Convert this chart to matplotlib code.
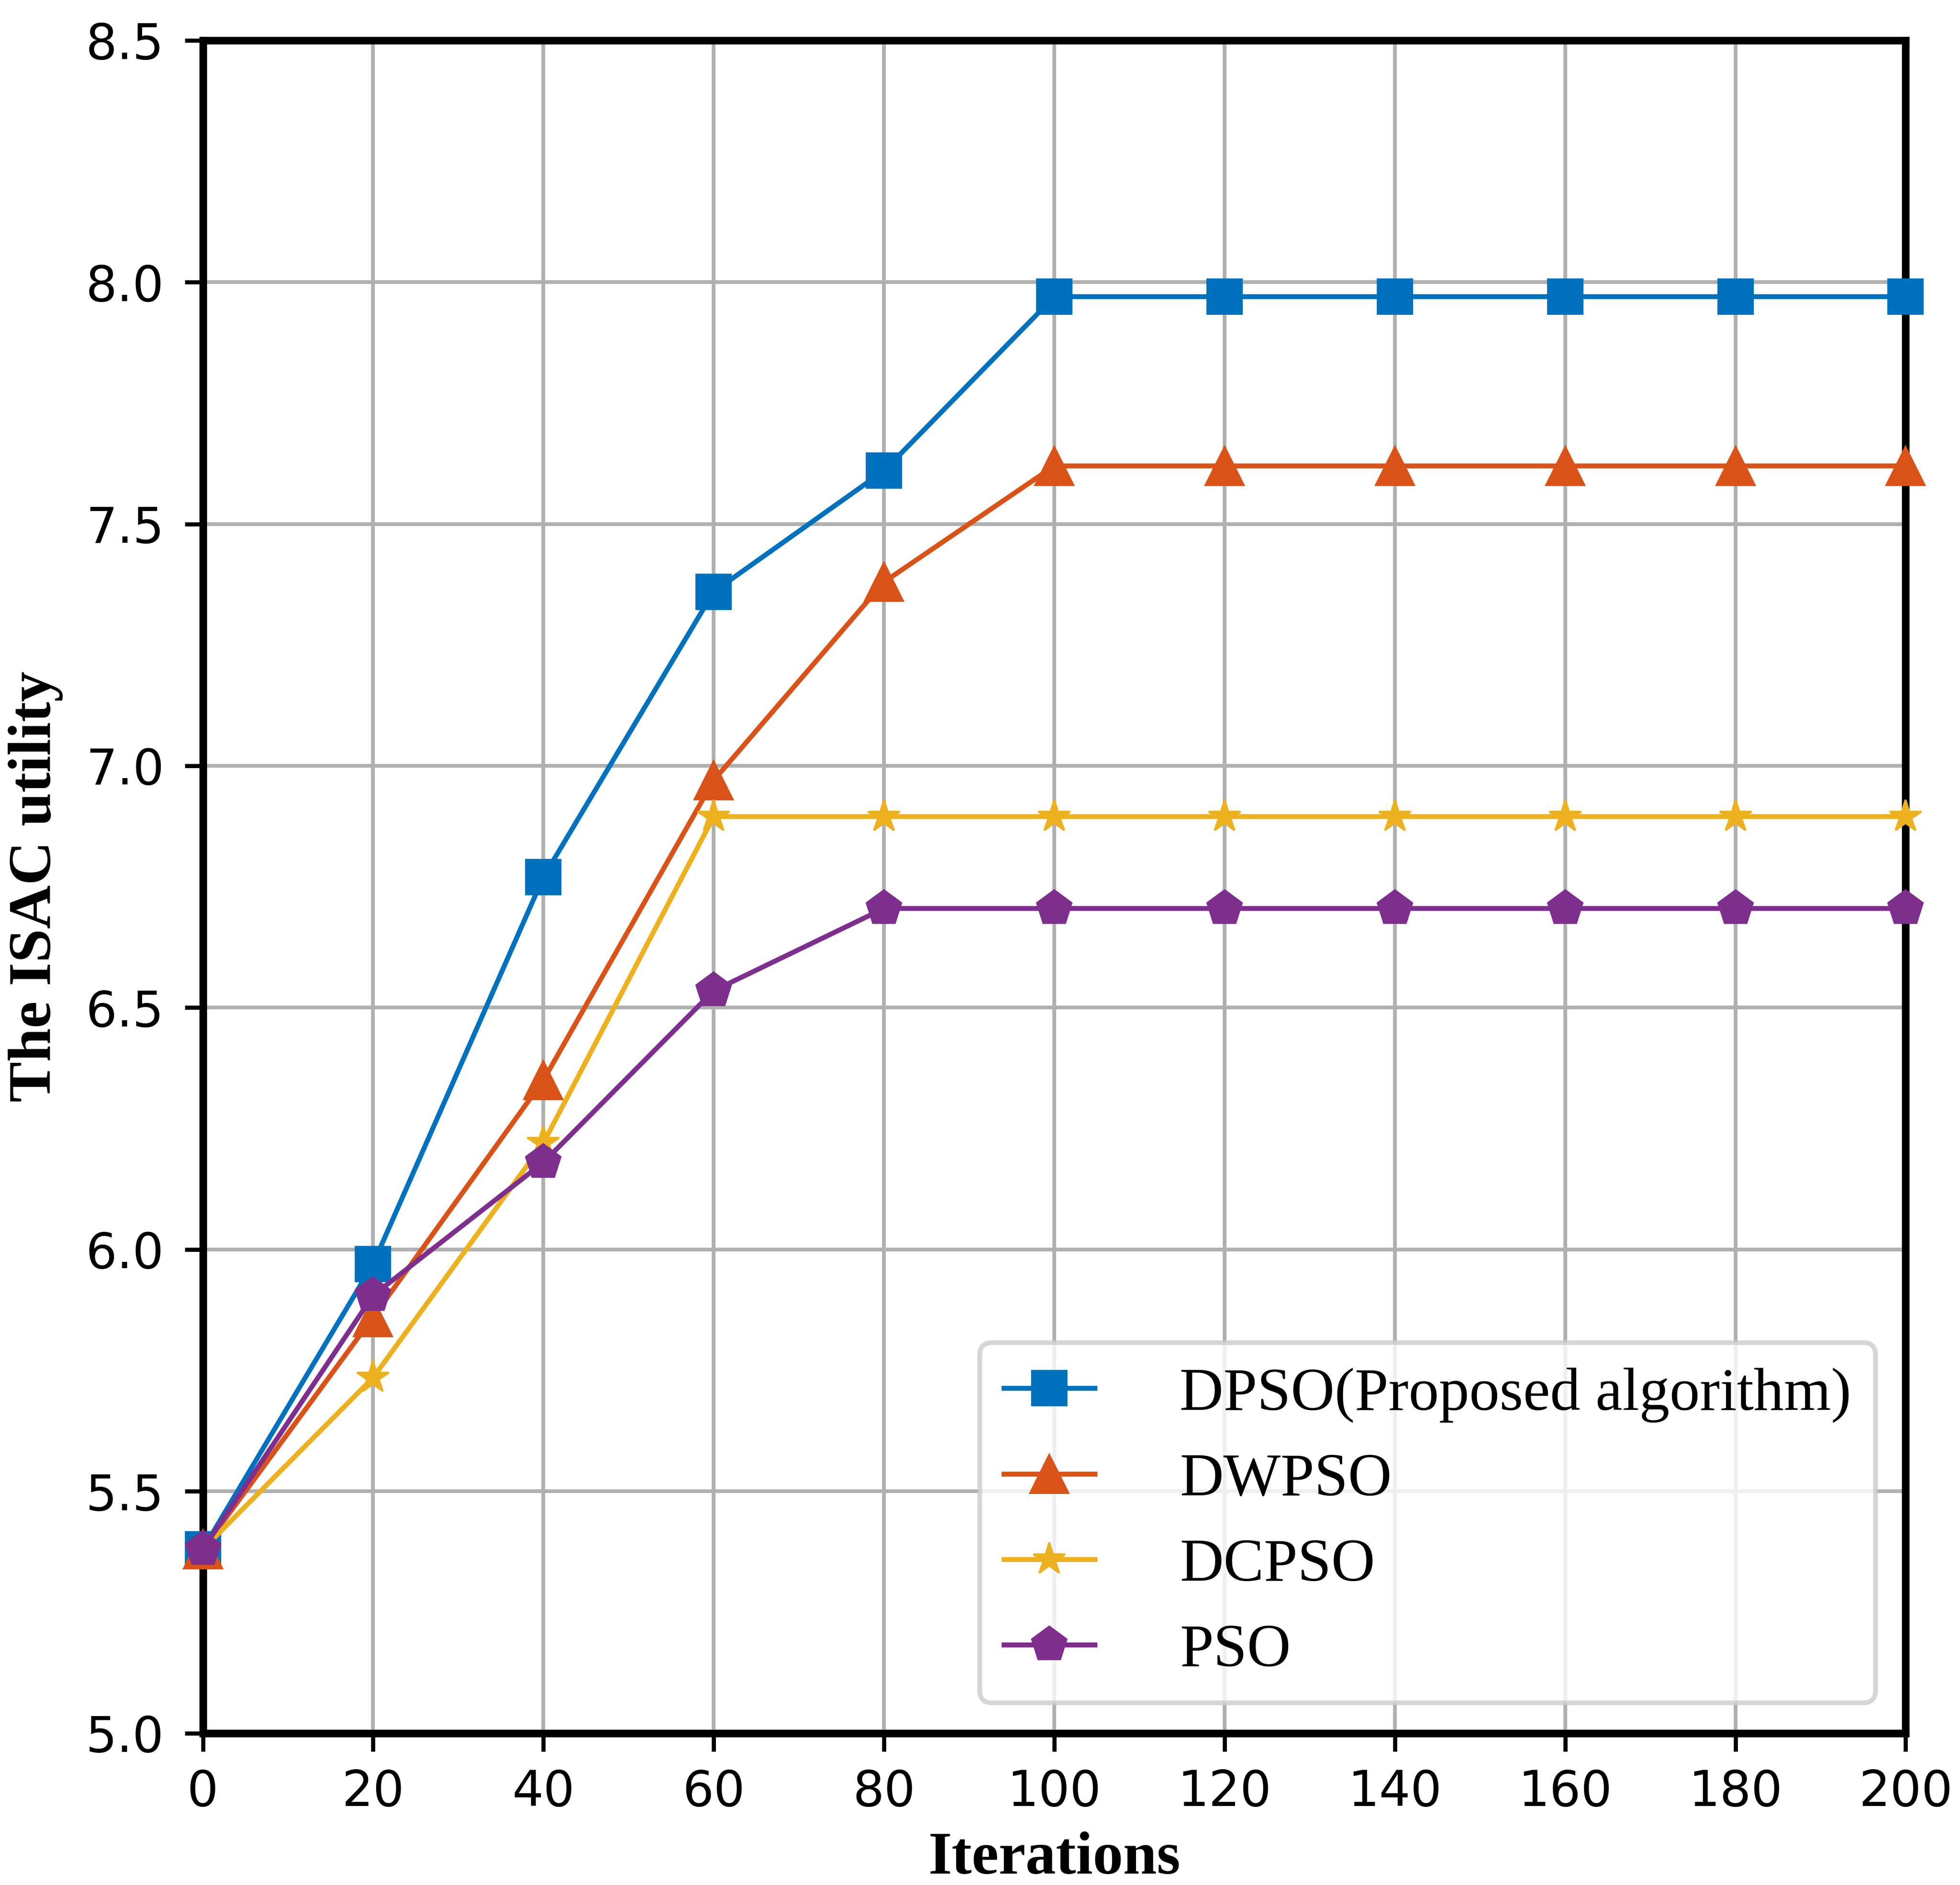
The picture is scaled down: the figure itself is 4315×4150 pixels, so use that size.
import matplotlib
matplotlib.use("Agg")
import matplotlib.pyplot as plt
import numpy as np

iterations = [0, 20, 40, 60, 80, 100, 120, 140, 160, 180, 200]
dpso = [5.38, 5.97, 6.77, 7.36, 7.61, 7.97, 7.97, 7.97, 7.97, 7.97, 7.97]
dwpso = [5.38, 5.86, 6.35, 6.97, 7.38, 7.62, 7.62, 7.62, 7.62, 7.62, 7.62]
dcpso = [5.38, 5.735, 6.22, 6.895, 6.895, 6.895, 6.895, 6.895, 6.895, 6.895, 6.895]
pso = [5.38, 5.905, 6.18, 6.535, 6.705, 6.705, 6.705, 6.705, 6.705, 6.705, 6.705]
labels = ["DPSO(Proposed algorithm)", "DWPSO", "DCPSO", "PSO"]
yticks = [5.0, 5.5, 6.0, 6.5, 7.0, 7.5, 8.0, 8.5]
xticks = [0, 20, 40, 60, 80, 100, 120, 140, 160, 180, 200]

plt.rcParams["axes.linewidth"] = 4.0

fig = plt.figure(figsize=(4315 / 300, 4150 / 300), dpi=300)
ax = fig.add_axes([0.1035, 0.0806, 0.8688, 0.898])

series = [dpso, dwpso, dcpso, pso]
colors = ["#0072BD", "#D95319", "#EDB120", "#7E2F8E"]
markers = ["s", "^", "*", "p"]
sizes = [18.4, 20, 17.6, 19.2]
for y, c, m, lab, ms in zip(series, colors, markers, labels, sizes):
    ax.plot(iterations, y, color=c, marker=m, markersize=ms, linewidth=2.6,
            label=lab, clip_on=False, zorder=3)

ax.set_xlim(0, 200)
ax.set_ylim(5.0, 8.5)
ax.set_xticks(xticks)
ax.set_yticks(yticks)
ax.set_yticklabels([f"{v:.1f}" for v in yticks])
ax.tick_params(axis="both", labelsize=26, length=9.5, width=2.2, direction="out")
ax.tick_params(axis="x", pad=9)
ax.tick_params(axis="y", pad=11)
ax.grid(True, color="#b0b0b0", linewidth=2.0)
ax.set_axisbelow(True)

ax.set_xlabel("Iterations", fontsize=32, fontweight="bold",
              family="Liberation Serif", labelpad=8)
ax.set_ylabel("The ISAC utility", fontsize=32, fontweight="bold",
              family="Liberation Serif", labelpad=12)

leg = ax.legend(loc="lower right", prop={"family": "Liberation Serif", "size": 32},
                handlelength=1.5, handletextpad=1.4, labelspacing=0.5,
                borderaxespad=0.5, fancybox=True)
leg.get_frame().set_linewidth(2.5)

fig.savefig("out.png", dpi=300)
